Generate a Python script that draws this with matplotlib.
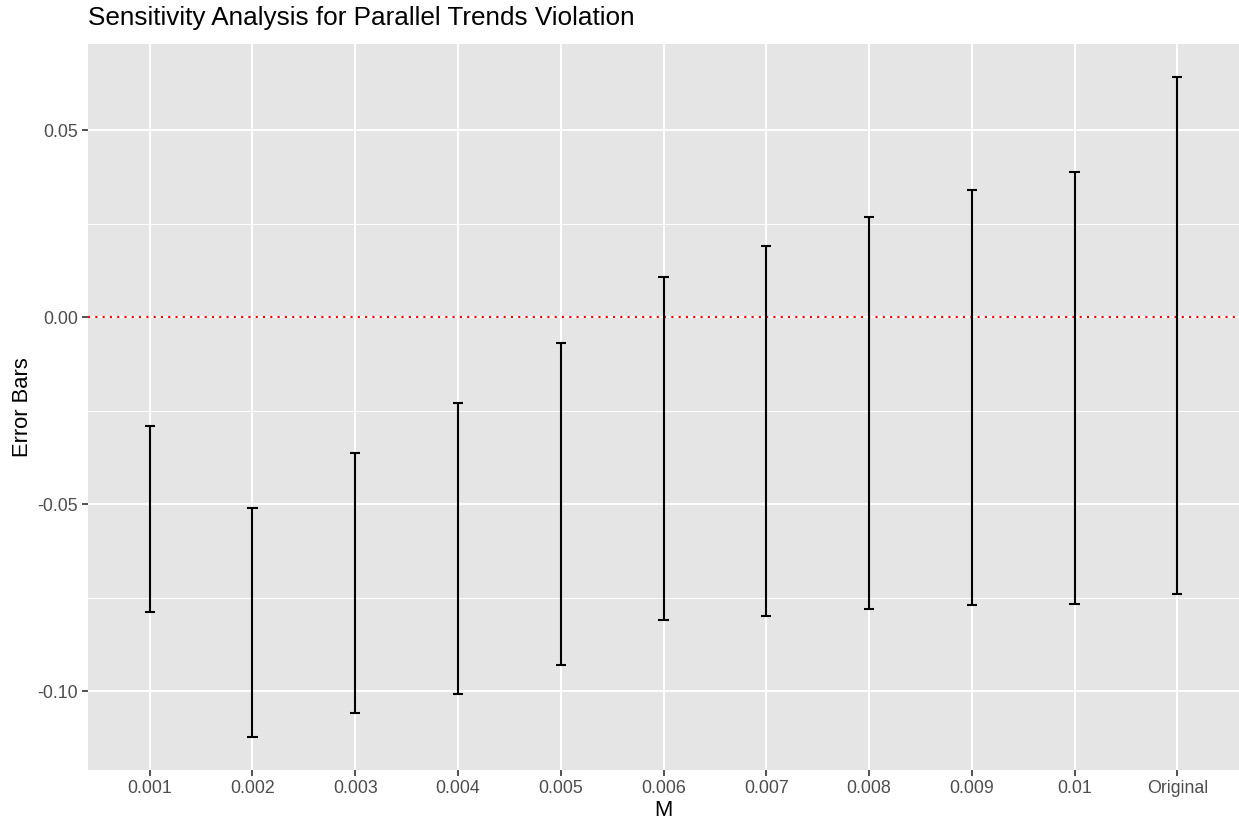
import numpy as np
import matplotlib.pyplot as plt
from matplotlib.ticker import MultipleLocator

plt.rcParams['font.family'] = ['Liberation Sans', 'DejaVu Sans']

labels = ["0.001", "0.002", "0.003", "0.004", "0.005", "0.006",
          "0.007", "0.008", "0.009", "0.01", "Original"]
lower = [-0.0789, -0.1123, -0.1059, -0.1008, -0.0931, -0.0811,
         -0.0800, -0.0781, -0.0771, -0.0768, -0.0741]
upper = [-0.0291, -0.0509, -0.0363, -0.0229, -0.0069, 0.0109,
         0.0192, 0.0269, 0.0341, 0.0389, 0.0643]

fig = plt.figure(figsize=(12.39, 8.19), dpi=100)
ax = fig.add_axes([88 / 1239, 49 / 819, 1151 / 1239, 726 / 819])
ax.set_facecolor("#e5e5e5")
for s in ax.spines.values():
    s.set_visible(False)

x = np.arange(1, len(labels) + 1)
lo = np.array(lower)
hi = np.array(upper)
cap = 0.05
ax.vlines(x, lo, hi, color="black", lw=1.5, zorder=3)
ax.hlines(lo, x - cap, x + cap, color="black", lw=1.5, zorder=3)
ax.hlines(hi, x - cap, x + cap, color="black", lw=1.5, zorder=3)

ax.axhline(0, color="red", ls=(0, (1, 2.5)), lw=1.5, zorder=2)

rng = hi.max() - lo.min()
ylim = (lo.min() - 0.05 * rng, hi.max() + 0.05 * rng)
ax.set_xlim(0.4, len(labels) + 0.6)

ax.set_xticks(x)
ax.set_xticklabels(labels)
ticks = [-0.10, -0.05, 0.0, 0.05]
ax.set_yticks(ticks)
ax.set_yticklabels(["%.2f" % t if abs(t) > 1e-9 else "0.00" for t in ticks])
ax.yaxis.set_minor_locator(MultipleLocator(0.025))
ax.set_ylim(*ylim)

ax.grid(True, which="major", color="white", lw=1.4, zorder=0)
ax.grid(True, which="minor", axis="y", color="white", lw=0.7, zorder=0)
ax.set_axisbelow(True)
ax.tick_params(which="major", length=4, width=1.2, color="#333333",
               labelcolor="#4d4d4d", labelsize=12.8, pad=3)
ax.tick_params(which="minor", length=0)

ax.set_xlabel("M", fontsize=15.8, labelpad=2)
ax.set_ylabel("Error Bars", fontsize=15.8, labelpad=3)
fig.text(88 / 1239, 1 - 18 / 819, "Sensitivity Analysis for Parallel Trends Violation",
         fontsize=18.8, ha="left", va="center")

fig.savefig("out.png", dpi=100)
